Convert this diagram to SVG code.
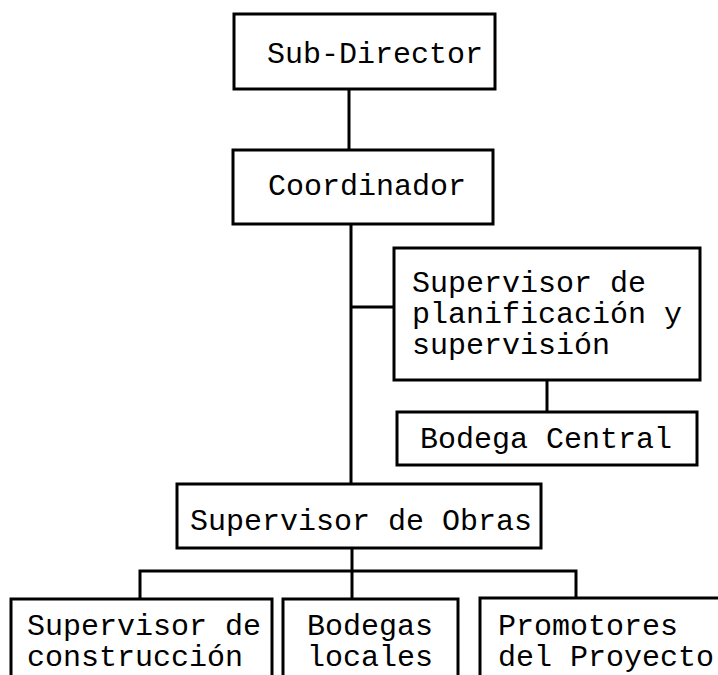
<svg xmlns="http://www.w3.org/2000/svg" width="718" height="675" viewBox="0 0 718 675">
<style>
.box{fill:#fff;stroke:#000;stroke-width:3}
.ln{fill:none;stroke:#000;stroke-width:3}
text{font-family:"Liberation Mono","Courier New",monospace;font-size:30px;fill:#000}
</style>
<rect width="718" height="675" fill="#fff"/>
<g id="connectors">
<line class="ln" x1="349" y1="89" x2="349" y2="150"/>
<line class="ln" x1="351" y1="224" x2="351" y2="484"/>
<line class="ln" x1="351" y1="307" x2="394" y2="307"/>
<line class="ln" x1="547" y1="380" x2="547" y2="412"/>
<line class="ln" x1="352" y1="548" x2="352" y2="599"/>
<polyline class="ln" points="140,599 140,571 576,571 576,599"/>
</g>
<g id="sub-director">
<rect class="box" x="234" y="14" width="261" height="75"/>
<text x="267" y="63">Sub-Director</text>
</g>
<g id="coordinador">
<rect class="box" x="233" y="150" width="260" height="74"/>
<text x="268" y="195">Coordinador</text>
</g>
<g id="supervisor-planificacion">
<rect class="box" x="394" y="248" width="306" height="132"/>
<text x="412" y="292">Supervisor de</text>
<text x="412" y="323">planificación y</text>
<text x="412" y="354">supervisión</text>
</g>
<g id="bodega-central">
<rect class="box" x="397" y="412" width="300" height="53"/>
<text x="420" y="448">Bodega Central</text>
</g>
<g id="supervisor-obras">
<rect class="box" x="177" y="484" width="364" height="64"/>
<text x="190" y="530">Supervisor de Obras</text>
</g>
<g id="supervisor-construccion">
<rect class="box" x="11" y="599" width="261" height="100"/>
<text x="27" y="635">Supervisor de</text>
<text x="27" y="666">construcción</text>
</g>
<g id="bodegas-locales">
<rect class="box" x="283" y="599" width="175" height="100"/>
<text x="307" y="635">Bodegas</text>
<text x="307" y="666">locales</text>
</g>
<g id="promotores">
<rect class="box" x="480" y="598" width="260" height="100"/>
<text x="498" y="635">Promotores</text>
<text x="498" y="666">del Proyecto</text>
</g>
</svg>
